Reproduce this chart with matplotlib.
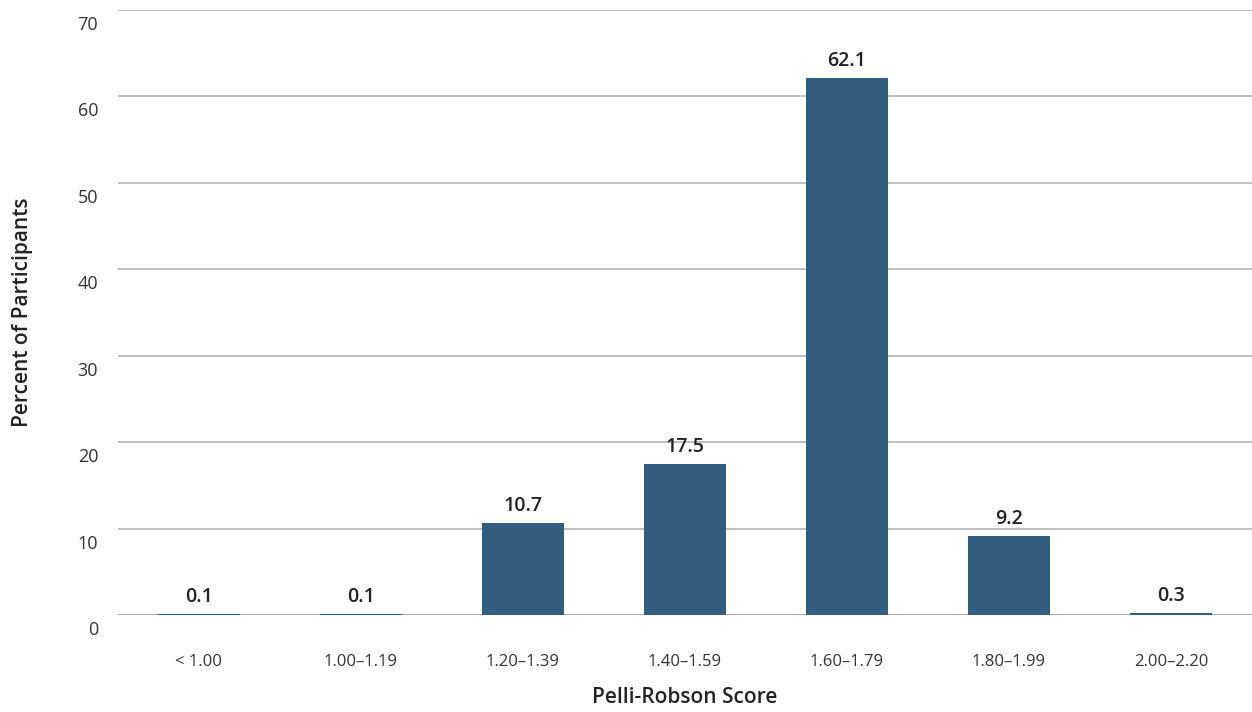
import matplotlib
matplotlib.use("Agg")
import matplotlib.pyplot as plt
import matplotlib.transforms as mtransforms

categories = ["< 1.00", "1.00\u20131.19", "1.20\u20131.39", "1.40\u20131.59",
              "1.60\u20131.79", "1.80\u20131.99", "2.00\u20132.20"]
percents = [0.1, 0.1, 10.7, 17.5, 62.1, 9.2, 0.3]
yticks = [0, 10, 20, 30, 40, 50, 60, 70]

plt.rcParams["font.family"] = ["Open Sans", "DejaVu Sans"]

fig = plt.figure(figsize=(12.52, 7.12), dpi=100)
ax = fig.add_axes([0.094, 0.136, 0.906, 0.850])

x = list(range(len(categories)))
ax.bar(x, percents, width=0.505, color="#325d7f", zorder=3)

# value labels above bars
for xi, v in zip(x, percents):
    ax.annotate(f"{v:.1f}", (xi, v), xytext=(0, 5), textcoords="offset points",
                ha="center", va="bottom", fontsize=14, fontweight="semibold",
                color="#222222", zorder=4)

ax.set_xlim(-0.5, len(categories) - 0.5)
ax.set_ylim(0, 70)
ax.set_yticks(yticks)
ax.set_xticks(x)
ax.set_xticklabels(categories)
ax.yaxis.grid(True, color="#b5b5b5", linewidth=1.2, zorder=0)
ax.axhline(0, color="#a8a8a8", linewidth=2, zorder=2)

for s in ax.spines.values():
    s.set_visible(False)
ax.tick_params(axis="x", length=0, labelsize=12, colors="#333333", pad=28)
ax.tick_params(axis="y", length=0, labelsize=13, colors="#333333", pad=14)

# y tick labels sit a bit below their gridlines
shift = mtransforms.ScaledTranslation(0, -13 / 100, fig.dpi_scale_trans)
for lab in ax.get_yticklabels():
    lab.set_transform(lab.get_transform() + shift)

ax.set_xlabel("Pelli-Robson Score", fontsize=15, fontweight="semibold",
              color="#222222", labelpad=12)
ax.set_ylabel("Percent of Participants", fontsize=15, fontweight="semibold",
              color="#222222")
ax.yaxis.set_label_coords(-0.075, 0.5)

fig.savefig("out.png", dpi=100)
